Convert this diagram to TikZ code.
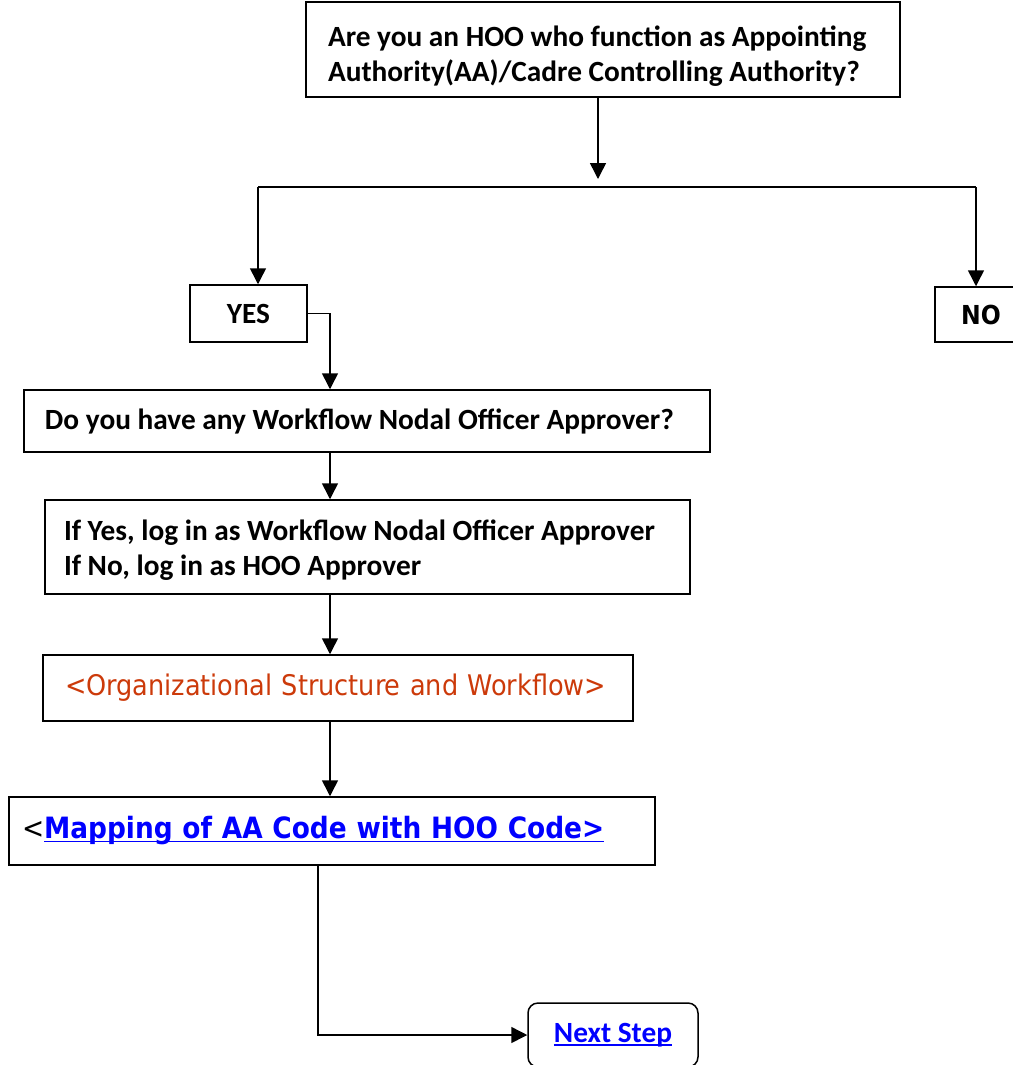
\documentclass[tikz,border=0pt]{standalone}
\usepackage{fontspec}
\setmainfont{Carlito}
\newfontfamily\tahoma{DejaVu Sans Condensed}
\usetikzlibrary{arrows.meta}
\newdimen\pxd \pxd=0.75pt
\definecolor{orgred}{RGB}{204,58,10}
\definecolor{linkblue}{RGB}{0,0,255}
\newcommand\myul[1]{\setbox0\hbox{#1}\rlap{\rule[-2.4pt]{\wd0}{1.2pt}}\box0}
\newcommand\lowr[3]{\raisebox{-#1}[\height][\depth]{\parbox{#2}{\raggedright #3}}}
\tikzset{
  box/.style={draw, line width=1.125pt, align=left, anchor=center},
  conn/.style={line width=1.125pt},
  arr/.style={conn, -{Triangle[width=12pt,length=12pt]}},
  qfont/.style={font=\bfseries\fontsize{22pt}{26.6pt}\selectfont},
}
\begin{document}
\begin{tikzpicture}[x=0.75pt,y=-0.75pt]
\useasboundingbox (0,0) rectangle (1013,1065);
% nodes
\node[box, qfont, minimum width=594\pxd, minimum height=95\pxd, inner xsep=22\pxd, inner ysep=0pt] (q) at (603,49.5)
  {\lowr{5pt}{550\pxd}{Are you an HOO who function as Appointing\\Authority(AA)/Cadre Controlling Authority?}};
\node[box, qfont, minimum width=117\pxd, minimum height=57\pxd, align=center, inner sep=0pt] (yes) at (248.5,313.5) {YES};
\node[box, minimum width=92\pxd, minimum height=55\pxd, align=center, inner sep=0pt, font=\tahoma\bfseries\fontsize{19.6pt}{22pt}\selectfont] (no) at (981,314.5) {NO};
\node[box, qfont, minimum width=686\pxd, minimum height=62\pxd, inner xsep=21\pxd, inner ysep=0pt] (b2) at (367,421)
  {\lowr{0pt}{644\pxd}{Do you have any Workflow Nodal Officer Approver?}};
\node[box, qfont, minimum width=645\pxd, minimum height=94\pxd, inner xsep=19\pxd, inner ysep=0pt] (b3) at (367.5,547)
  {\lowr{2.5pt}{607\pxd}{If Yes, log in as Workflow Nodal Officer Approver\\If No, log in as HOO Approver}};
\node[box, minimum width=590\pxd, minimum height=66\pxd, text width=546\pxd, inner xsep=22\pxd, inner ysep=0pt, text=orgred, font=\tahoma\fontsize{21.3pt}{26pt}\selectfont] (b4) at (338,688)
  {<Organizational Structure and Workflow>};
\node[box, minimum width=646\pxd, minimum height=68\pxd, text width=620\pxd, inner xsep=13\pxd, inner ysep=0pt, font=\tahoma\fontsize{22pt}{26pt}\selectfont] (b5) at (332,831)
  {<\textcolor{linkblue}{\bfseries\myul{Mapping of AA Code with HOO Code>}}};
\node[box, rounded corners=10\pxd, minimum width=170\pxd, minimum height=64\pxd, align=center, inner sep=0pt, text=linkblue, font=\bfseries\fontsize{22pt}{24pt}\selectfont] (next) at (613,1035)
  {\raisebox{-2pt}{\myul{Next Step}}};
% coordinates
\coordinate (j) at (598,179);
\coordinate (bl) at (258,187);
\coordinate (br) at (976,187);
\coordinate (sp) at (330,0);
\coordinate (dn) at (318,0);
% connectors
\draw[arr] (q.south -| j) -- (j);
\draw[conn] (bl) -- (br);
\draw[arr] (bl) -- (yes.north -| bl);
\draw[arr] (br) -- (no.north -| br);
\draw[arr] (yes.east) -| (b2.north -| sp);
\draw[arr] (b2.south -| sp) -- (b3.north -| sp);
\draw[arr] (b3.south -| sp) -- (b4.north -| sp);
\draw[arr] (b4.south -| sp) -- (b5.north -| sp);
\draw[arr] (b5.south -| dn) |- (next.west);
\end{tikzpicture}
\end{document}
